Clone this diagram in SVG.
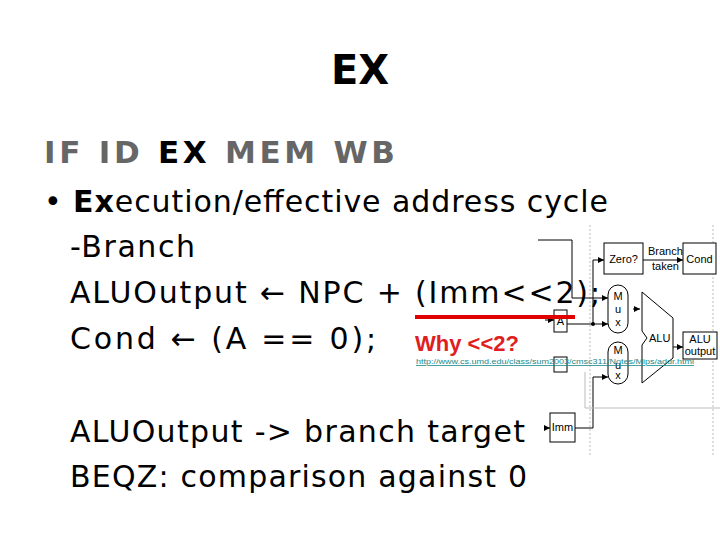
<svg xmlns="http://www.w3.org/2000/svg" width="720" height="540" viewBox="0 0 720 540">
<defs>
<style>
.t{font-family:"DejaVu Sans",sans-serif;font-size:30px;fill:#000}
.bx{fill:#fff;stroke:#000;stroke-width:1}
.ln{fill:none;stroke:#000;stroke-width:1}
.dl{fill:none;stroke:#bbb;stroke-width:1;stroke-dasharray:2,2}
.s{font-family:"Liberation Sans",sans-serif;font-size:11px;fill:#000}
</style>
<marker id="ar" viewBox="0 0 6 6" refX="6" refY="3" markerWidth="6" markerHeight="6" orient="auto"><path d="M0,0L6,3L0,6z" fill="#000"/></marker>
</defs>
<rect width="720" height="540" fill="#fff"/>
<text x="360" y="84" text-anchor="middle" font-family="DejaVu Sans,sans-serif" font-size="40" font-weight="bold">EX</text>
<text x="44" y="163" font-family="DejaVu Sans,sans-serif" font-size="31" font-weight="bold" fill="#666" textLength="351" lengthAdjust="spacing">IF ID <tspan fill="#000">EX</tspan> MEM WB</text>
<text class="t" x="44" y="212" textLength="564" lengthAdjust="spacing">• <tspan font-weight="bold">Ex</tspan>ecution/effective address cycle</text>
<text class="t" x="70" y="257" textLength="125" lengthAdjust="spacing">-Branch</text>
<text class="t" x="70" y="303" textLength="530" lengthAdjust="spacing">ALUOutput ← NPC + (Imm&lt;&lt;2);</text>
<text class="t" x="70" y="349" textLength="306" lengthAdjust="spacing">Cond ← (A == 0);</text>
<text class="t" x="70" y="442" textLength="455" lengthAdjust="spacing">ALUOutput -&gt; branch target</text>
<text class="t" x="70" y="487" textLength="457" lengthAdjust="spacing">BEQZ: comparison against 0</text>
<g id="diagram">
<line class="dl" x1="590" y1="225" x2="590" y2="455"/>
<line class="dl" x1="713" y1="225" x2="713" y2="455"/>
<g id="connectors">
<path class="ln" d="M538,240H572V298H608" marker-end="url(#ar)"/>
<path class="ln" d="M567,324H608" marker-end="url(#ar)"/>
<path class="ln" d="M593,324V260H604" marker-end="url(#ar)"/>
<circle cx="593" cy="324" r="2"/>
<path class="ln" d="M575,428H593V377H608" marker-end="url(#ar)"/>
<path class="ln" d="M545,428H550" marker-end="url(#ar)"/>
<path class="ln" d="M545,320H554" marker-end="url(#ar)"/>
<path class="ln" d="M643,260H683" marker-end="url(#ar)"/>
<path class="ln" d="M633,309H640" marker-end="url(#ar)"/>
<path class="ln" d="M673,347H683" marker-end="url(#ar)"/>
<path fill="none" stroke="#bbb" d="M585,372V408H720"/>
</g>
<g id="zero"><rect class="bx" x="604" y="243" width="39" height="31"/><text class="s" x="623.5" y="263" text-anchor="middle">Zero?</text></g>
<text class="s" x="648" y="255">Branch</text><text class="s" x="652" y="270" fill="#444">taken</text>
<g id="cond"><rect class="bx" x="683" y="243" width="33" height="31"/><text class="s" x="699.5" y="263" text-anchor="middle">Cond</text></g>
<g id="mux1"><rect class="bx" x="608" y="285" width="20" height="48" rx="10"/><text class="s" x="618" y="300" text-anchor="middle" font-size="9">M</text><text class="s" x="618" y="313" text-anchor="middle" font-size="9">u</text><text class="s" x="618" y="326" text-anchor="middle" font-size="9">x</text></g>
<g id="mux2"><rect class="bx" x="608" y="342" width="20" height="42" rx="10"/><text class="s" x="618" y="354" text-anchor="middle" font-size="9">M</text><text class="s" x="618" y="369" text-anchor="middle" font-size="9">u</text><text class="s" x="618" y="379" text-anchor="middle" font-size="9">x</text></g>
<g id="alu"><path class="bx" d="M642,292L673,318V358L642,383V345L647,338L642,331Z"/><text class="s" x="649" y="342">ALU</text></g>
<g id="aluout"><rect class="bx" x="683" y="332" width="34" height="27"/><text class="s" x="700" y="343" text-anchor="middle">ALU</text><text class="s" x="700" y="355" text-anchor="middle">output</text></g>
<g id="A"><rect class="bx" x="554" y="310" width="13" height="22"/><text class="s" x="560.5" y="325" text-anchor="middle" font-size="9">A</text></g>
<g id="B"><rect class="bx" x="554" y="357" width="13" height="15" stroke="#999"/></g>
<g id="imm"><rect class="bx" x="550" y="413" width="25" height="29"/><text class="s" x="562.5" y="431" text-anchor="middle" font-size="9">Imm</text></g>
</g>
<rect x="415" y="315" width="160" height="4" fill="#e00000"/>
<text x="415" y="351" font-family="Liberation Sans,sans-serif" font-size="22" font-weight="bold" fill="#e02020">Why &lt;&lt;2?</text>
<text x="416" y="364" font-family="Liberation Sans,sans-serif" font-size="8" fill="#1a8a8a" text-decoration="underline" textLength="278" lengthAdjust="spacingAndGlyphs">http://www.cs.umd.edu/class/sum2003/cmsc311/Notes/Mips/addr.html</text>
</svg>
